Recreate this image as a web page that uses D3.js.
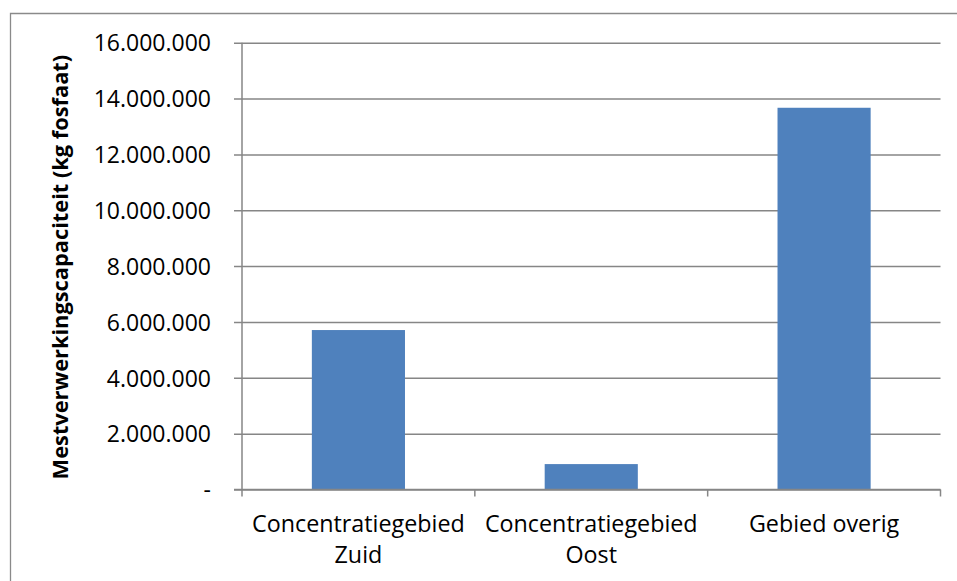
<!DOCTYPE html>
<html>
<head>
<meta charset="utf-8">
<script src="https://cdn.jsdelivr.net/npm/d3@7/dist/d3.min.js"></script>
<style>
  html, body { margin: 0; padding: 0; background: #fff; }
  svg { display: block; }
  text { font-family: "Open Sans", "Noto Sans", sans-serif; fill: #000; }
</style>
</head>
<body>
<svg id="chart" width="957" height="581"></svg>
<script>
// ---- Data ----
const categories = [["Concentratiegebied", "Zuid"], ["Concentratiegebied", "Oost"], ["Gebied overig"]];
const values = [5710000, 910000, 13670000];
const yTicks = [0, 2000000, 4000000, 6000000, 8000000, 10000000, 12000000, 14000000, 16000000];
const yTitle = "Mestverwerkingscapaciteit (kg fosfaat)";

// ---- Layout ----
const svg = d3.select("#chart");
const W = 957, H = 581;
const plot = { left: 242, right: 940.5, top: 42.7, bottom: 489.5 };
const gridColor = "#868686";
const barColor = "#4F81BD";

// outer chart border (left and top edges visible)
svg.append("path")
  .attr("d", `M10.5,${H + 5} V13.5 H${W + 5}`)
  .attr("fill", "none").attr("stroke", "#8a8a8a").attr("stroke-width", 1.3);

const keys = categories.map((c, i) => "c" + i);
const x = d3.scaleBand().domain(keys).range([plot.left, plot.right]).paddingInner(0.6).paddingOuter(0.3);
const xBand = d3.scaleBand().domain(keys).range([plot.left, plot.right]).padding(0);
const y = d3.scaleLinear().domain([0, 16000000]).range([plot.bottom, plot.top]);

const loc = d3.formatLocale({ decimal: ",", thousands: ".", grouping: [3], currency: ["€", ""] });
const fmt = loc.format(",.0f");

// gridlines + y ticks
const yAxis = d3.axisLeft(y).tickValues(yTicks)
  .tickSize(-(plot.right - plot.left) - 8)
  .tickPadding(23)
  .tickFormat(d => d === 0 ? "-" : fmt(d));
const gy = svg.append("g").attr("transform", `translate(${plot.left - 8},0)`).call(yAxis);
gy.select(".domain").remove();
gy.selectAll(".tick line").attr("stroke", gridColor).attr("stroke-width", 1.5)
  .attr("x1", 0);
gy.selectAll(".tick text")
  .style("font-size", "23px")
  .attr("dy", "0.36em");

// bars
svg.append("g").selectAll("rect").data(values).join("rect")
  .attr("x", (d, i) => x(keys[i]))
  .attr("width", x.bandwidth())
  .attr("y", d => y(d))
  .attr("height", d => y(0) - y(d))
  .attr("fill", barColor);

// y axis line
svg.append("line")
  .attr("x1", plot.left).attr("x2", plot.left)
  .attr("y1", plot.top).attr("y2", plot.bottom)
  .attr("stroke", gridColor).attr("stroke-width", 1.5);

// x axis with category boundary ticks
const xAxisLine = svg.append("g");
xAxisLine.append("line")
  .attr("x1", plot.left - 8).attr("x2", plot.right)
  .attr("y1", plot.bottom).attr("y2", plot.bottom)
  .attr("stroke", gridColor).attr("stroke-width", 1.5);
const bounds = keys.map(k => xBand(k)).concat([plot.right]);
xAxisLine.selectAll("line.bt").data(bounds).join("line").attr("class", "bt")
  .attr("x1", d => d).attr("x2", d => d)
  .attr("y1", plot.bottom).attr("y2", plot.bottom + 7)
  .attr("stroke", gridColor).attr("stroke-width", 1.5);

// category labels
const lab = svg.append("g").selectAll("text").data(categories).join("text")
  .attr("x", (d, i) => xBand(keys[i]) + xBand.bandwidth() / 2)
  .attr("y", 532)
  .attr("text-anchor", "middle")
  .style("font-size", "23.3px");
lab.selectAll("tspan").data(d => d).join("tspan")
  .attr("x", function () { return d3.select(this.parentNode).attr("x"); })
  .attr("dy", (d, i) => i === 0 ? 0 : 31)
  .text(d => d);

// y title
svg.append("text")
  .attr("transform", `translate(68,${(plot.top + plot.bottom) / 2 + 1}) rotate(-90)`)
  .attr("text-anchor", "middle")
  .style("font-size", "21.8px")
  .style("font-weight", "bold")
  .text(yTitle);
</script>
</body>
</html>
